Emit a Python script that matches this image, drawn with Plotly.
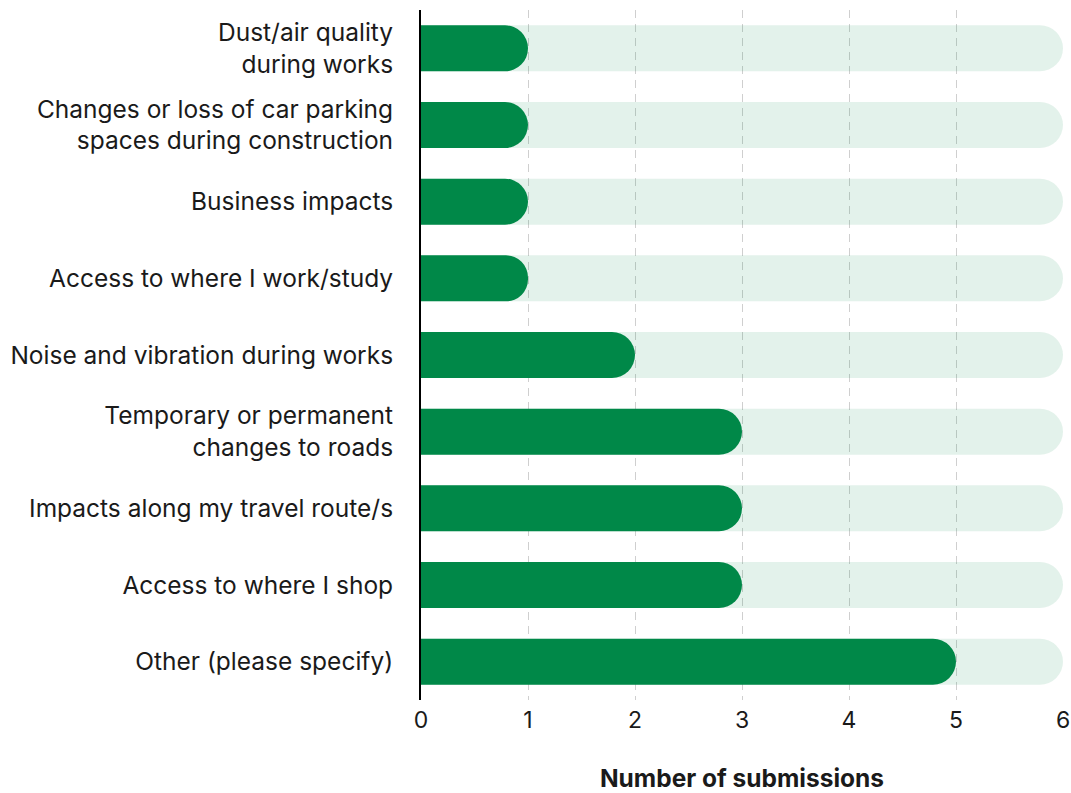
import plotly.graph_objects as go

categories = [
    "Dust/air quality<br>during works",
    "Changes or loss of car parking<br>spaces during construction",
    "Business impacts",
    "Access to where I work/study",
    "Noise and vibration during works",
    "Temporary or permanent<br>changes to roads",
    "Impacts along my travel route/s",
    "Access to where I shop",
    "Other (please specify)",
]
submissions = [1, 1, 1, 1, 2, 3, 3, 3, 5]
scale_max = 6
track = [scale_max] * len(categories)
x_ticks = [0, 1, 2, 3, 4, 5, 6]

FONT = "Inter"
TXT = "#1a1a1a"
fig = go.Figure()
fig.add_trace(go.Bar(
    y=categories, x=track, orientation="h", yaxis="y",
    marker=dict(color="rgba(0,136,74,0.11)", cornerradius="50%", line=dict(width=0)),
    hoverinfo="skip", showlegend=False,
))
fig.add_trace(go.Bar(
    y=categories, x=submissions, orientation="h", yaxis="y2",
    marker=dict(color="#008848", cornerradius="50%", line=dict(width=0)),
    showlegend=False,
))
fig.update_layout(
    width=1071, height=793,
    barmode="overlay", bargap=0.4,
    plot_bgcolor="white", paper_bgcolor="white",
    margin=dict(l=421, r=8, t=10, b=93),
    font=dict(family=FONT, color=TXT),
    xaxis=dict(
        range=[0, scale_max], tickvals=x_ticks, showgrid=True,
        gridcolor="#cfcfcf", griddash="8px,6px", gridwidth=1,
        zeroline=False, showline=False, ticks="", automargin=False,
        tickfont=dict(size=23, family=FONT, color=TXT),
        ticklabelstandoff=4,
        title=dict(text="<b>Number of submissions</b>", font=dict(size=24.5, family=FONT, color=TXT), standoff=44),
    ),
    yaxis=dict(
        autorange="reversed", showgrid=False, zeroline=False, automargin=False,
        showline=True, linecolor="black", linewidth=2, ticks="",
        tickfont=dict(size=24.5, family=FONT, color=TXT),
        ticklabelstandoff=21,
    ),
    yaxis2=dict(
        overlaying="y", autorange="reversed", showgrid=False, zeroline=False,
        showticklabels=False, showline=False, automargin=False,
    ),
)
fig.write_html(
    "out.html",
    config={"displayModeBar": False},
    post_script="document.body.style.margin='0';document.body.style.overflow='hidden';",
)
